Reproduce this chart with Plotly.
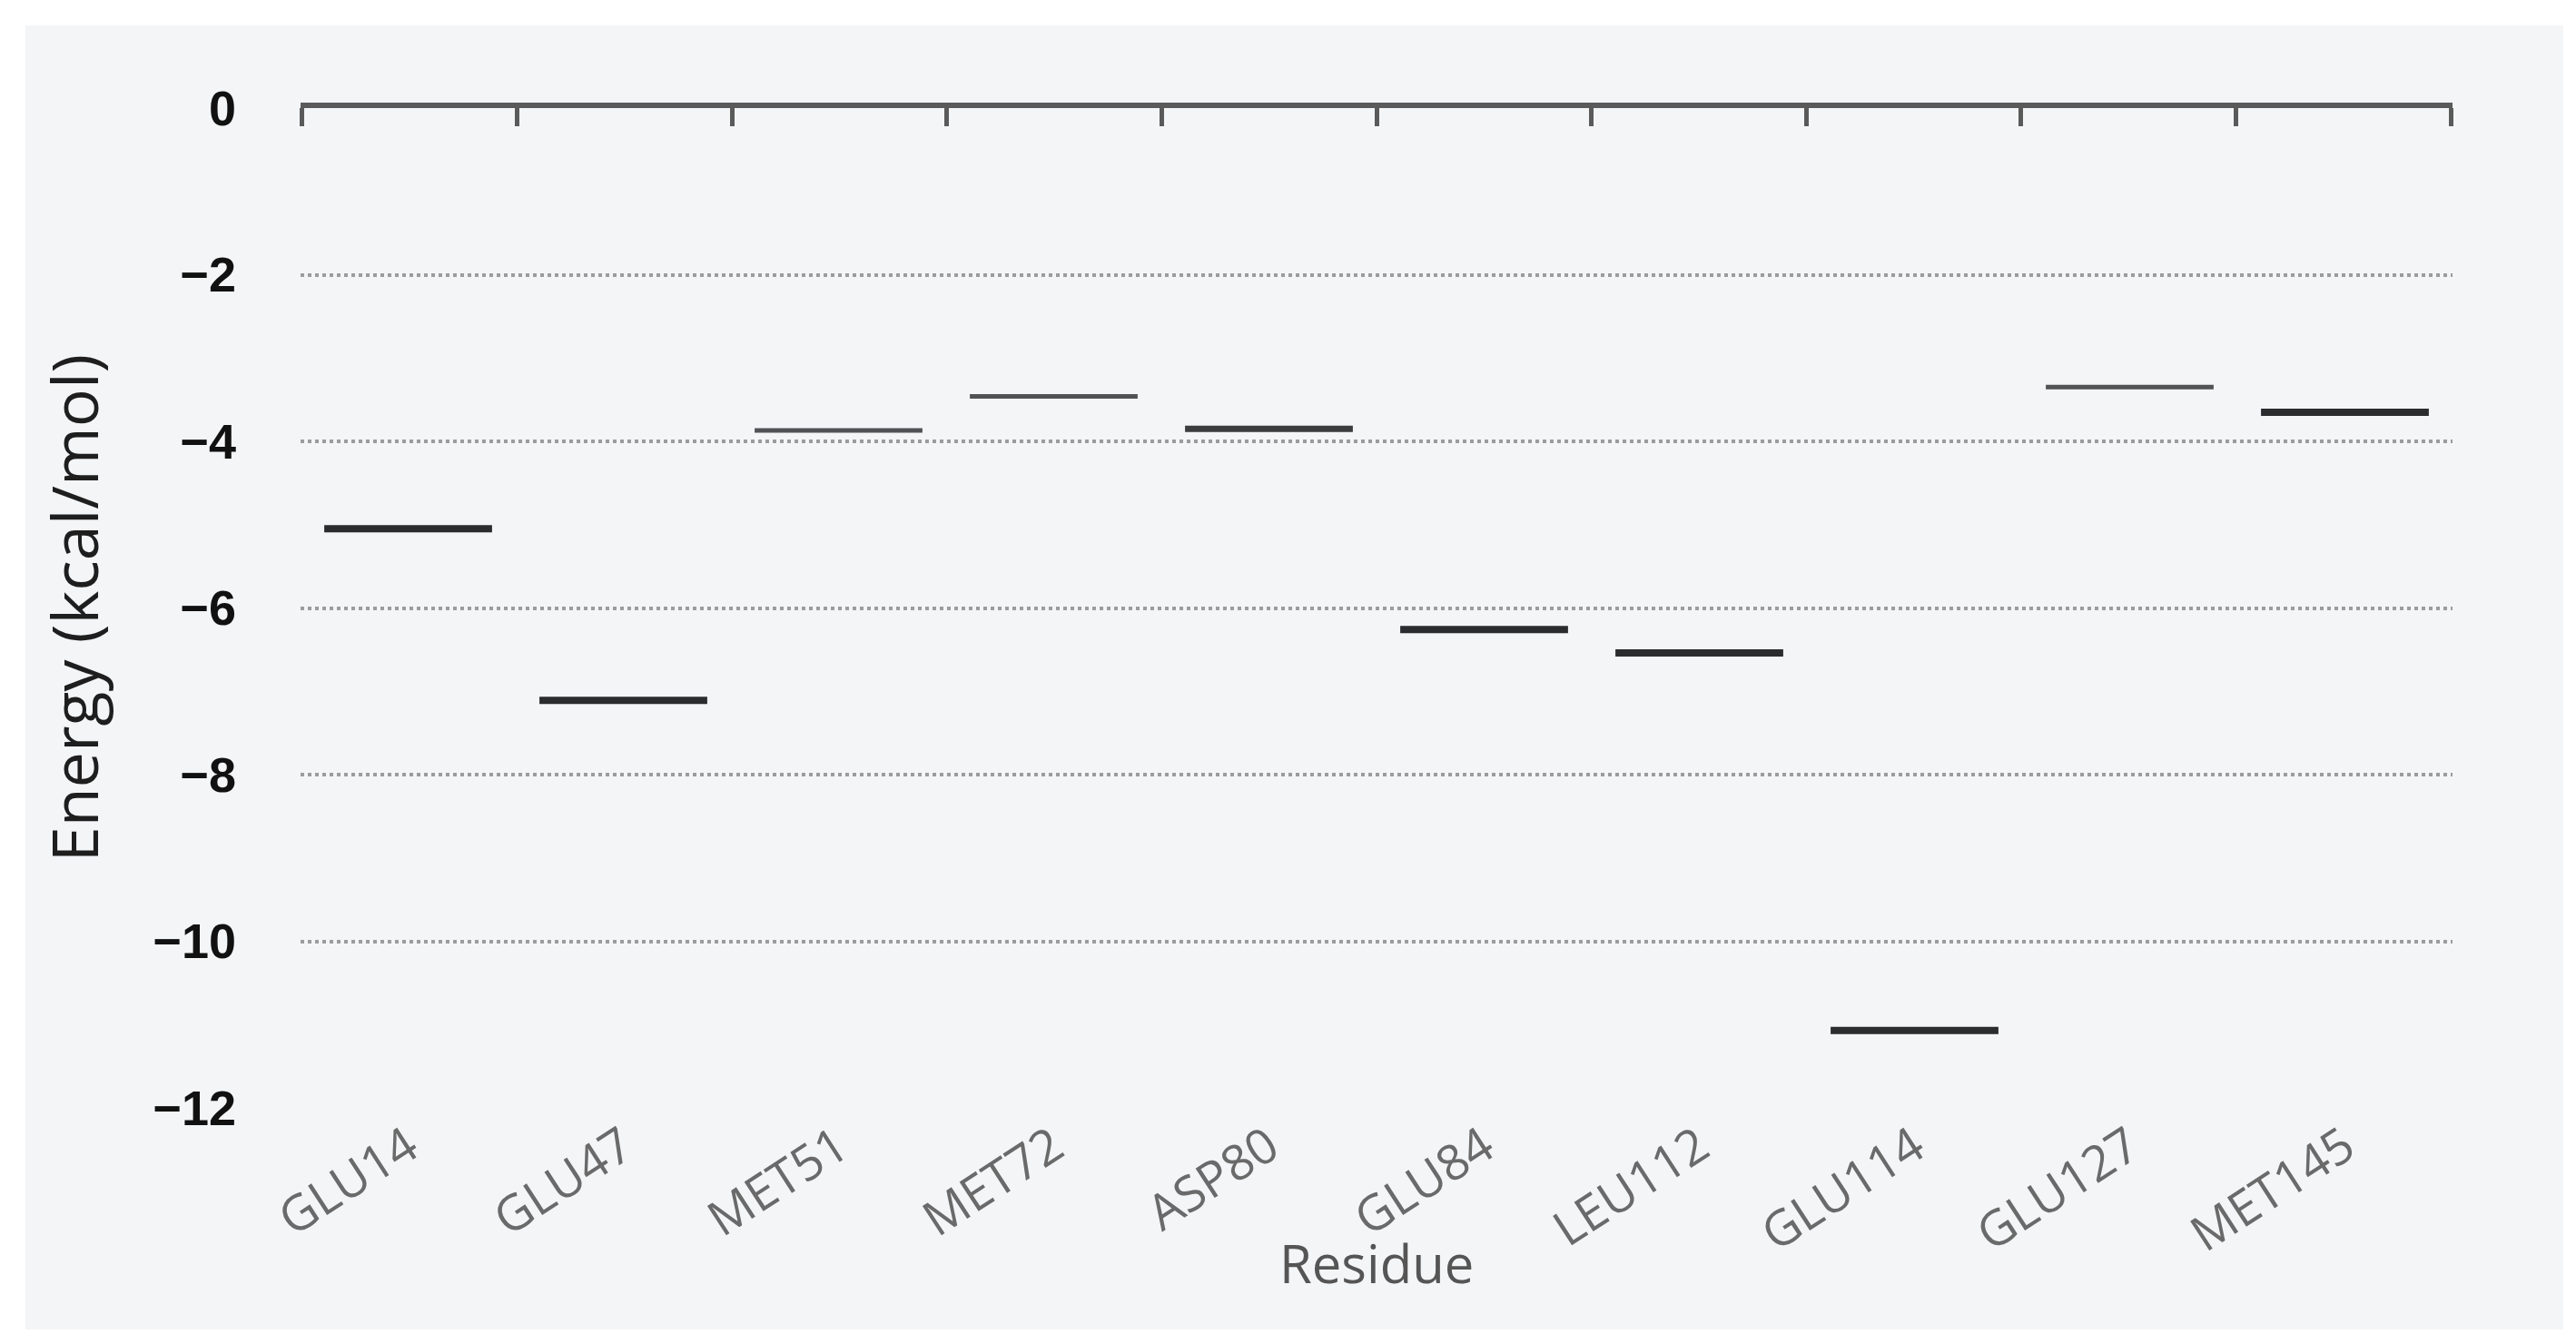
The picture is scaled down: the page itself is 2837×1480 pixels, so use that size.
import plotly.graph_objects as go

residues = ["GLU14", "GLU47", "MET51", "MET72", "ASP80", "GLU84", "LEU112", "GLU114", "GLU127", "MET145"]
energy = [-5.05, -7.11, -3.87, -3.46, -3.85, -6.26, -6.54, -11.07, -3.35, -3.65]
y_ticks = [0, -2, -4, -6, -8, -10, -12]

W, H = 2837, 1480
L, R, T, B = 323, 144, 111, 268
plot_w = W - L - R
plot_h = H - T - B

line_widths = [8, 8, 5, 5, 7, 8, 8, 8, 5, 8]
line_colors = ["#2a2c2e", "#2a2c2e", "#505254", "#505254", "#3a3c3e",
               "#2a2c2e", "#2a2c2e", "#2a2c2e", "#505254", "#2a2c2e"]

n = len(residues)
eps = 0.008

fig = go.Figure()
fig.add_trace(go.Scatter(
    x=residues, y=energy, mode="markers",
    marker=dict(symbol="line-ew", size=132,
                line=dict(width=line_widths, color=line_colors)),
    showlegend=False, hoverinfo="x+y",
))
# invisible trace to anchor top boundary axis
fig.add_trace(go.Scatter(x=[-0.5, n - 0.5], y=[0, 0], xaxis="x2",
                         mode="lines", line=dict(width=0), showlegend=False,
                         hoverinfo="skip", opacity=0))

def px_to_paper_x(px):
    return (px - L) / plot_w

def px_to_paper_y(py):
    return (H - B - py) / plot_h

fig.update_layout(
    width=W, height=H,
    margin=dict(l=L, r=R, t=T, b=B, autoexpand=False),
    paper_bgcolor="white",
    plot_bgcolor="#f4f5f7",
    font=dict(family="Open Sans, Noto Sans, sans-serif"),
    xaxis=dict(
        type="category", range=[-0.5, n - 0.5],
        showline=False, showgrid=False, zeroline=False, ticks="",
        tickangle=-33,
        tickfont=dict(size=54, color="#6a6a6a", family="Open Sans, Noto Sans, sans-serif"),
        automargin=False,
    ),
    xaxis2=dict(
        overlaying="x", side="top", anchor="y",
        range=[-0.5 - eps, n - 0.5 + eps],
        tickmode="array",
        tickvals=[i - 0.5 for i in range(n + 1)],
        showticklabels=False, ticks="inside", ticklen=20, tickwidth=5,
        tickcolor="#5a5a5a",
        showline=True, linewidth=6, linecolor="#5a5a5a",
        showgrid=False, zeroline=False,
    ),
    yaxis=dict(
        range=[-12, 0], tickmode="array", tickvals=y_ticks,
        ticks="", ticklabelstandoff=70,
        tickfont=dict(size=54, color="#111111", family="Liberation Sans, Arial, sans-serif", weight="bold"),
        showgrid=True, gridcolor="#9c9c9c", griddash="dot", gridwidth=4,
        zeroline=False, showline=False,
        title=dict(text="Energy (kcal/mol)", font=dict(size=70, color="#1e1e1e"), standoff=36),
        automargin=False,
    ),
    annotations=[dict(
        text="Residue", xref="paper", yref="paper",
        x=0.5, y=px_to_paper_y(1382), xanchor="center", yanchor="middle",
        showarrow=False, font=dict(size=58, color="#555555"),
    )],
    shapes=[dict(
        type="rect", xref="paper", yref="paper", layer="below",
        x0=px_to_paper_x(20), x1=px_to_paper_x(2815),
        y0=px_to_paper_y(1456), y1=px_to_paper_y(20),
        fillcolor="#f4f5f7", line=dict(width=0),
    )],
)

fig.write_html("out.html")
